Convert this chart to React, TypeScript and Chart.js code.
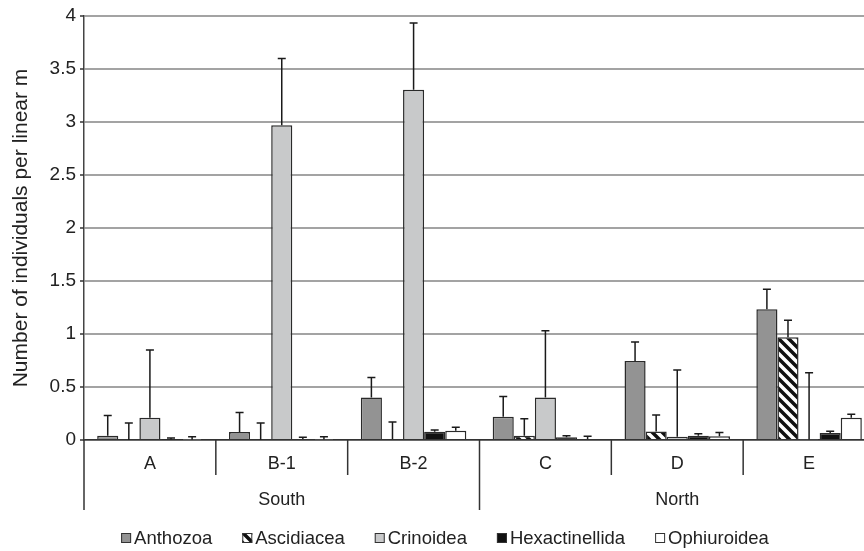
import React, { useEffect, useRef } from 'react';
import { Chart, registerables } from 'chart.js';

Chart.register(...registerables);

// ---- data ----
const categories = ['A', 'B-1', 'B-2', 'C', 'D', 'E'];
const regions = ['South', 'North'];
const regionSpans = [3, 3];
const yMin = 0;
const yMax = 4;
const yStep = 0.5;
const yTitle = 'Number of individuals per linear m';

const seriesNames = ['Anthozoa', 'Ascidiacea', 'Crinoidea', 'Hexactinellida', 'Ophiuroidea'];

const anthozoa = [0.04, 0.075, 0.4, 0.22, 0.745, 1.233];
const anthozoaErr = [0.19, 0.185, 0.19, 0.19, 0.18, 0.19];
const ascidiacea = [0, 0, 0.01, 0.04, 0.08, 0.97];
const ascidiaceaErr = [0.16, 0.16, 0.16, 0.16, 0.155, 0.16];
const crinoidea = [0.21, 2.97, 3.305, 0.4, 0.03, 0.005];
const crinoideaErr = [0.64, 0.63, 0.63, 0.63, 0.63, 0.63];
const hexactinellida = [0.005, 0.01, 0.078, 0.025, 0.04, 0.066];
const hexactinellidaErr = [0.015, 0.015, 0.016, 0.015, 0.02, 0.016];
const ophiuroidea = [0.003, 0.005, 0.088, 0.01, 0.035, 0.21];
const ophiuroideaErr = [0.027, 0.025, 0.032, 0.025, 0.035, 0.032];

const FONT = "'Liberation Sans', Arial, sans-serif";
const TEXT = '#222222';

function makeHatch(): CanvasPattern | string {
  const c = document.createElement('canvas');
  c.width = 10;
  c.height = 10;
  const g = c.getContext('2d');
  if (!g) return '#ffffff';
  g.fillStyle = '#ffffff';
  g.fillRect(0, 0, 10, 10);
  g.strokeStyle = '#111111';
  g.lineWidth = 3.5;
  g.beginPath();
  g.moveTo(-2, -2);
  g.lineTo(12, 12);
  g.moveTo(-2, 8);
  g.lineTo(2, 12);
  g.moveTo(8, -2);
  g.lineTo(12, 2);
  g.stroke();
  const p = g.createPattern(c, 'repeat');
  return p || '#ffffff';
}

const errorBarPlugin = {
  id: 'errorBars',
  afterDatasetsDraw(chart: any) {
    const ctx = chart.ctx;
    const yScale = chart.scales.y;
    ctx.save();
    ctx.strokeStyle = '#1a1a1a';
    ctx.lineWidth = 1.5;
    chart.data.datasets.forEach((ds: any, i: number) => {
      const meta = chart.getDatasetMeta(i);
      meta.data.forEach((el: any, j: number) => {
        const v = ds.data[j];
        const e = ds.errors[j];
        const x = el.x;
        const y0 = yScale.getPixelForValue(v);
        const y1 = yScale.getPixelForValue(v + e);
        ctx.beginPath();
        ctx.moveTo(x, y0);
        ctx.lineTo(x, y1);
        ctx.moveTo(x - 4, y1);
        ctx.lineTo(x + 4, y1);
        ctx.stroke();
      });
    });
    ctx.restore();
  },
};

const axisGroupsPlugin = {
  id: 'axisGroups',
  afterDraw(chart: any) {
    const ctx = chart.ctx;
    const xs = chart.scales.x;
    const ys = chart.scales.y;
    const area = chart.chartArea;
    const n = categories.length;
    const w = (xs.right - xs.left) / n;
    const base = area.bottom;
    ctx.save();
    ctx.strokeStyle = '#333333';
    ctx.lineWidth = 1.5;
    // small outward y ticks
    ys.ticks.forEach((t: any) => {
      const y = ys.getPixelForValue(t.value);
      ctx.beginPath();
      ctx.moveTo(area.left - 4, y);
      ctx.lineTo(area.left, y);
      ctx.stroke();
    });
    // region boundaries
    const regionBounds: number[] = [0];
    let acc = 0;
    regionSpans.forEach((s) => {
      acc += s;
      regionBounds.push(acc);
    });
    for (let i = 0; i <= n; i++) {
      const x = xs.left + i * w;
      const long = regionBounds.indexOf(i) >= 0 && i < n;
      ctx.beginPath();
      ctx.moveTo(x, base);
      ctx.lineTo(x, base + (long ? 70 : 35));
      ctx.stroke();
    }
    // region labels
    ctx.fillStyle = TEXT;
    ctx.font = `18px ${FONT}`;
    ctx.textAlign = 'center';
    ctx.textBaseline = 'middle';
    for (let r = 0; r < regions.length; r++) {
      const x0 = xs.left + regionBounds[r] * w;
      const x1 = xs.left + regionBounds[r + 1] * w;
      ctx.fillText(regions[r], (x0 + x1) / 2, base + 60);
    }
    // legend
    ctx.font = `18.5px ${FONT}`;
    const box = 10;
    const gap = 3;
    const spacing = 30;
    const items = chart.data.datasets.map((ds: any) => ({
      label: ds.label,
      fill: ds.backgroundColor,
      w: box + gap + ctx.measureText(ds.label).width,
    }));
    const total = items.reduce((s: number, it: any) => s + it.w, 0) + spacing * (items.length - 1);
    let x = chart.width / 2 - total / 2;
    const ly = 538;
    ctx.textAlign = 'left';
    items.forEach((it: any) => {
      ctx.fillStyle = it.fill;
      ctx.fillRect(x, ly - box / 2, box, box);
      ctx.strokeStyle = '#333333';
      ctx.lineWidth = 1;
      ctx.strokeRect(x + 0.5, ly - box / 2 + 0.5, box - 1, box - 1);
      ctx.fillStyle = TEXT;
      ctx.fillText(it.label, x + box + gap, ly + 1);
      x += it.w + spacing;
    });
    ctx.restore();
  },
};

export default function App() {
  const ref = useRef<HTMLCanvasElement | null>(null);

  useEffect(() => {
    const canvas = ref.current;
    if (!canvas) return;
    const hatch = makeHatch();
    const values = [anthozoa, ascidiacea, crinoidea, hexactinellida, ophiuroidea];
    const errs = [anthozoaErr, ascidiaceaErr, crinoideaErr, hexactinellidaErr, ophiuroideaErr];
    const fills: any[] = ['#939393', hatch, '#c8c9ca', '#111111', '#ffffff'];
    const chart = new Chart(canvas, {
      type: 'bar',
      data: {
        labels: categories,
        datasets: seriesNames.map((name, i) => ({
          label: name,
          data: values[i],
          errors: errs[i],
          backgroundColor: fills[i],
          borderColor: '#2a2a2a',
          borderWidth: 1.5,
          categoryPercentage: 0.8,
          barPercentage: 1.0,
        })) as any,
      },
      options: {
        animation: false,
        responsive: false,
        maintainAspectRatio: false,
        devicePixelRatio: 1,
        layout: { padding: { left: 0, top: 16, right: 15, bottom: 31 } },
        plugins: {
          legend: { display: false },
          tooltip: { enabled: false },
        },
        scales: {
          x: {
            grid: { display: false, drawTicks: false },
            border: { display: true, color: '#333333', width: 1.5 },
            ticks: {
              color: TEXT,
              font: { family: FONT, size: 18 },
              padding: 13,
              maxRotation: 0,
            },
            afterFit(scale: any) {
              scale.height = 80;
              scale.paddingLeft = 0;
              scale.paddingRight = 0;
            },
          },
          y: {
            min: yMin,
            max: yMax,
            ticks: {
              stepSize: yStep,
              color: TEXT,
              font: { family: FONT, size: 19 },
              padding: 8,
              callback: (v: any) => String(Math.round(Number(v) * 10) / 10),
            },
            grid: { color: '#a3a3a3', lineWidth: 2, drawTicks: false },
            border: { display: true, color: '#444444', width: 1.5 },
            title: {
              display: true,
              text: yTitle,
              color: TEXT,
              font: { family: FONT, size: 21 },
              padding: { top: 9, bottom: 0 },
            },
            afterFit(scale: any) {
              scale.width = 84;
              scale.paddingTop = 8;
              scale.paddingBottom = 0;
            },
          },
        },
      },
      plugins: [errorBarPlugin, axisGroupsPlugin],
    });
    return () => chart.destroy();
  }, []);

  return (
    <div
      style={{
        position: 'fixed',
        left: 0,
        top: 0,
        width: 864,
        height: 551,
        overflow: 'hidden',
        background: '#ffffff',
      }}
    >
      <canvas ref={ref} width={890} height={551} style={{ display: 'block', width: 890, height: 551 }} />
    </div>
  );
}
